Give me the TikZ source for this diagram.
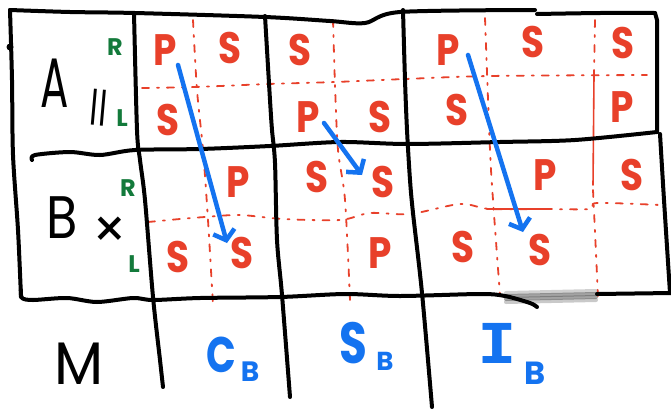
\documentclass[tikz,border=0pt]{standalone}
\usepackage{fontspec}
\usetikzlibrary{arrows.meta}
\newfontfamily\hand{Poppins}
\newfontfamily\handmono{DejaVu Sans Mono}
\definecolor{redc}{HTML}{E8402A}
\definecolor{greenc}{HTML}{137A3B}
\definecolor{bluec}{HTML}{1473F0}
\tikzset{
  blk/.style={line width=4pt, line cap=round, line join=round, black},
  reddash/.style={line width=1.8pt, redc, line cap=round, dash pattern=on 7pt off 8pt on 2pt off 8pt},
  redsolid/.style={line width=1.6pt, redc, line cap=round},
  barrow/.style={line width=4.5pt, bluec, line cap=round, -{Straight Barb[length=9pt,width=22pt,line width=4.5pt]}},
  rl/.style={text=redc, inner sep=0pt, font=\hand\bfseries\fontsize{44}{44}\selectfont, xscale=0.85},
  gl/.style={text=greenc, inner sep=0pt, font=\hand\bfseries\fontsize{24}{24}\selectfont},
  kl/.style={text=black, inner sep=0pt, font=\hand\fontsize{60}{60}\selectfont},
  bll/.style={text=bluec, inner sep=0pt, font=\hand\bfseries\fontsize{50}{50}\selectfont},
  bsub/.style={text=bluec, inner sep=0pt, font=\hand\bfseries\fontsize{28}{28}\selectfont}
}
\begin{document}
\begin{tikzpicture}[x=1pt,y=-1pt]
\useasboundingbox (0,0) rectangle (671,410);
\fill[white] (0,0) rectangle (671,410);
% grey smudge
\foreach \dy/\op in {-4/0.3,-1/0.6,2/0.6,5/0.35}
  \draw[line width=4pt, gray!80!black, opacity=\op, line cap=round] (506,297+\dy) -- (596,295+\dy);
% red dashed sub-grid
\draw[reddash] plot[smooth] coordinates {(142,88) (195,87) (268,84) (335,82) (405,79) (490,76) (647,75)};
\draw[reddash] plot[smooth] coordinates {(148,222) (180,219) (205,217) (240,215) (283,219) (340,220) (370,213) (410,214) (460,204) (490,209) (545,209) (590,209) (597,203) (660,205)};
\draw[reddash] plot[smooth] coordinates {(193,20) (197,90) (203,150) (208,220) (213,305)};
\draw[reddash] plot[smooth] coordinates {(333,20) (335,85) (338,150) (345,200) (350,300)};
\draw[reddash] plot[smooth] coordinates {(485,18) (490,150) (493,200) (497,255) (500,295)};
\draw[reddash] (595,20) -- (594,75);
\draw[redsolid] (594,75) -- (593,185);
\draw[reddash] (593,190) -- (598,296);
\draw[redsolid] (487,209) -- (545,209);
% black grid
\draw[blk] plot[smooth] coordinates {(10,10) (70,12) (135,13) (265,17) (330,21) (365,23) (400,12) (535,10)};
\draw[blk] plot[smooth] coordinates {(537,14) (600,13) (655,13)};
\draw[blk] (655,13) -- (657,20) -- (657,132);
\draw[blk] plot[smooth] coordinates {(10,10) (12,80) (13,155) (18,230) (21,297)};
\fill (10,47) circle (3.5pt);
\draw[blk] plot[smooth] coordinates {(32,160) (35,155) (70,152) (100,155) (135,150) (200,149) (270,146) (340,142) (407,144) (500,142) (575,140) (657,132)};
\draw[blk] plot[smooth] coordinates {(660,134) (664,200) (670,293)};
\draw[blk] plot[smooth] coordinates {(21,290) (22,298) (33,300) (67,298) (97,302) (133,298) (153,300) (200,298) (280,297) (345,294) (400,296) (480,294) (505,296) (530,303) (537,307)};
\draw[blk] (597,294) -- (671,293);
\draw[blk] plot[smooth] coordinates {(134,13) (137,130) (140,160) (145,200) (153,297) (160,360) (163,387)};
\draw[blk] plot[smooth] coordinates {(265,16) (270,100) (272,130) (275,163) (277,240) (282,295) (290,397)};
\draw[blk] plot[smooth] coordinates {(403,10) (405,80) (407,130) (410,180) (413,213) (422,293) (432,407)};
% row labels
\node[kl, font=\hand\fontsize{70}{70}\selectfont, xscale=0.6] (A) at (55,83) {A};
\node[kl, font=\hand\fontsize{40}{40}\selectfont, rotate=-5, xscale=0.8] (par) at (99,108) {||};
\node[kl, xscale=0.85] (B) at (62,218) {B};
\node[kl, font=\hand\fontsize{54}{54}\selectfont] (X) at (110,233) {×};
\node[kl, xscale=0.95] (M) at (79,364) {M};
\node[gl] (ra) at (115,47) {R};
\node[gl] (la) at (122,118) {L};
\node[gl] (rb) at (128,188) {R};
\node[gl] (lb) at (134,264) {L};
% red letters
\node[rl] (a1) at (165,50) {P};
\node[rl] (a2) at (230,48) {S};
\node[rl] (a3) at (300,50) {S};
\node[rl] (a4) at (448,50) {P};
\node[rl] (a5) at (533,42) {S};
\node[rl] (a6) at (623,43) {S};
\node[rl] (a7) at (168,120) {S};
\node[rl] (a8) at (308,117) {P};
\node[rl] (a9) at (380,117) {S};
\node[rl] (a10) at (457,110) {S};
\node[rl] (a11) at (622,107) {P};
\node[rl] (b1) at (238,182) {P};
\node[rl] (b2) at (317,177) {S};
\node[rl] (b3) at (383,182) {S};
\node[rl] (b4) at (545,175) {P};
\node[rl] (b5) at (632,175) {S};
\node[rl] (b6) at (178,257) {S};
\node[rl] (b7) at (242,253) {S};
\node[rl] (b8) at (380,253) {P};
\node[rl] (b9) at (463,247) {S};
\node[rl] (b10) at (540,250) {S};
% blue arrows
\coordinate (s1) at (178,65); \coordinate (e1) at (227,243);
\coordinate (s2) at (324,123); \coordinate (e2) at (362,175);
\coordinate (s3) at (468,55); \coordinate (e3) at (523,232);
\draw[barrow] (s1) -- (e1);
\draw[barrow] (s2) -- (e2);
\draw[barrow] (s3) -- (e3);
% bottom labels
\node[bll, xscale=0.78] (C) at (221,355) {C};
\node[bsub] (Cb) at (250,372) {B};
\node[bll, font=\hand\bfseries\fontsize{58}{58}\selectfont, xscale=0.78] (S) at (353,343) {S};
\node[bsub, font=\hand\bfseries\fontsize{26}{26}\selectfont] (Sb) at (385,361) {B};
\node[bll, font=\handmono\bfseries\fontsize{55}{55}\selectfont, xscale=1.2] (I) at (497,343) {I};
\node[bsub, font=\hand\bfseries\fontsize{32}{32}\selectfont] (Ib) at (535,373) {B};
\end{tikzpicture}
\end{document}
